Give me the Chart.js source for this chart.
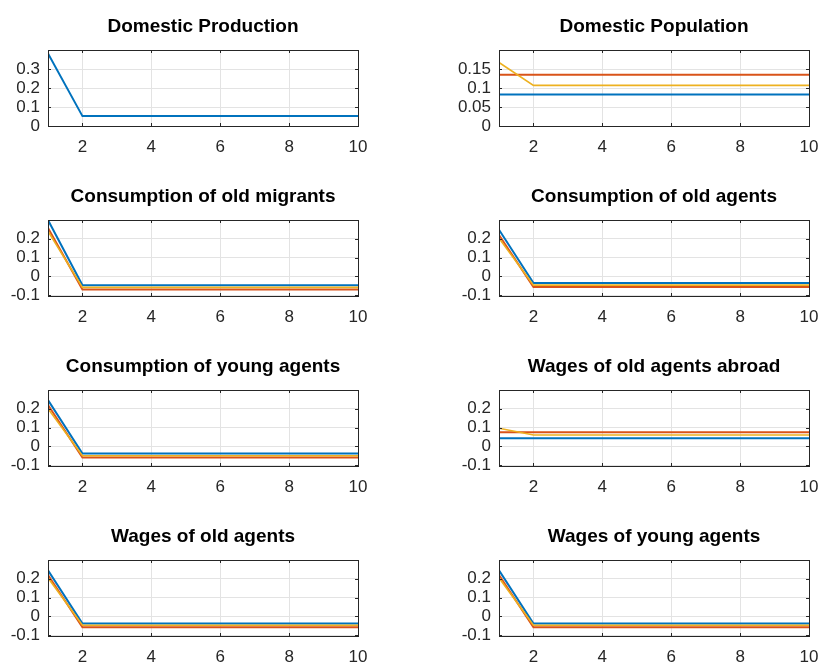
<!DOCTYPE html>
<html>
<head>
<meta charset="utf-8">
<script src="https://cdn.jsdelivr.net/npm/chart.js@4/dist/chart.umd.min.js"></script>
<style>
  html, body { margin: 0; padding: 0; background: #fff; }
  body { width: 819px; height: 662px; overflow: hidden; position: relative; }
  canvas { position: absolute; }
</style>
</head>
<body>
<div id="figure"></div>
<script>
// periodos (eixo x) e ticks
const periods = [1, 2, 3, 4, 5, 6, 7, 8, 9, 10];
const xTicks = [2, 4, 6, 8, 10];

// Domestic Production
const prodBlue = [0.382, 0.052, 0.052, 0.052, 0.052, 0.052, 0.052, 0.052, 0.052, 0.052];

// Domestic Population
const popBlue = [0.083, 0.083, 0.083, 0.083, 0.083, 0.083, 0.083, 0.083, 0.083, 0.083];
const popRed = [0.135, 0.135, 0.135, 0.135, 0.135, 0.135, 0.135, 0.135, 0.135, 0.135];
const popYellow = [0.167, 0.107, 0.107, 0.107, 0.107, 0.107, 0.107, 0.107, 0.107, 0.107];

// Consumption of old migrants
const oldMigBlue = [0.300, -0.048, -0.048, -0.048, -0.048, -0.048, -0.048, -0.048, -0.048, -0.048];
const oldMigRed = [0.257, -0.070, -0.070, -0.070, -0.070, -0.070, -0.070, -0.070, -0.070, -0.070];
const oldMigYellow = [0.240, -0.059, -0.059, -0.059, -0.059, -0.059, -0.059, -0.059, -0.059, -0.059];

// Consumption of old agents
const oldConsBlue = [0.248, -0.036, -0.036, -0.036, -0.036, -0.036, -0.036, -0.036, -0.036, -0.036];
const oldConsRed = [0.220, -0.057, -0.057, -0.057, -0.057, -0.057, -0.057, -0.057, -0.057, -0.057];
const oldConsYellow = [0.203, -0.047, -0.047, -0.047, -0.047, -0.047, -0.047, -0.047, -0.047, -0.047];

// Consumption of young agents
const youngConsBlue = [0.246, -0.039, -0.039, -0.039, -0.039, -0.039, -0.039, -0.039, -0.039, -0.039];
const youngConsRed = [0.220, -0.060, -0.060, -0.060, -0.060, -0.060, -0.060, -0.060, -0.060, -0.060];
const youngConsYellow = [0.200, -0.050, -0.050, -0.050, -0.050, -0.050, -0.050, -0.050, -0.050, -0.050];

// Wages of old agents abroad
const abroadBlue = [0.043, 0.043, 0.043, 0.043, 0.043, 0.043, 0.043, 0.043, 0.043, 0.043];
const abroadRed = [0.075, 0.075, 0.075, 0.075, 0.075, 0.075, 0.075, 0.075, 0.075, 0.075];
const abroadYellow = [0.096, 0.060, 0.060, 0.060, 0.060, 0.060, 0.060, 0.060, 0.060, 0.060];

// Wages of old agents
const oldWageBlue = [0.245, -0.038, -0.038, -0.038, -0.038, -0.038, -0.038, -0.038, -0.038, -0.038];
const oldWageRed = [0.220, -0.058, -0.058, -0.058, -0.058, -0.058, -0.058, -0.058, -0.058, -0.058];
const oldWageYellow = [0.205, -0.048, -0.048, -0.048, -0.048, -0.048, -0.048, -0.048, -0.048, -0.048];

// Wages of young agents
const youngWageBlue = [0.245, -0.038, -0.038, -0.038, -0.038, -0.038, -0.038, -0.038, -0.038, -0.038];
const youngWageRed = [0.220, -0.058, -0.058, -0.058, -0.058, -0.058, -0.058, -0.058, -0.058, -0.058];
const youngWageYellow = [0.205, -0.048, -0.048, -0.048, -0.048, -0.048, -0.048, -0.048, -0.048, -0.048];

const ticksA = [0, 0.1, 0.2, 0.3];
const ticksB = [0, 0.05, 0.1, 0.15];
const ticksC = [-0.1, 0, 0.1, 0.2];

const paineis = [
  { title: 'Domestic Production', series: [prodBlue], yMin: 0, yMax: 0.4, yTicks: ticksA },
  { title: 'Domestic Population', series: [popBlue, popRed, popYellow], yMin: 0, yMax: 0.2, yTicks: ticksB },
  { title: 'Consumption of old migrants', series: [oldMigBlue, oldMigRed, oldMigYellow], yMin: -0.105, yMax: 0.3, yTicks: ticksC },
  { title: 'Consumption of old agents', series: [oldConsBlue, oldConsRed, oldConsYellow], yMin: -0.105, yMax: 0.3, yTicks: ticksC },
  { title: 'Consumption of young agents', series: [youngConsBlue, youngConsRed, youngConsYellow], yMin: -0.105, yMax: 0.3, yTicks: ticksC },
  { title: 'Wages of old agents abroad', series: [abroadBlue, abroadRed, abroadYellow], yMin: -0.105, yMax: 0.3, yTicks: ticksC },
  { title: 'Wages of old agents', series: [oldWageBlue, oldWageRed, oldWageYellow], yMin: -0.105, yMax: 0.3, yTicks: ticksC },
  { title: 'Wages of young agents', series: [youngWageBlue, youngWageRed, youngWageYellow], yMin: -0.105, yMax: 0.3, yTicks: ticksC }
];

const cores = ['#0072BD', '#D95319', '#EDB120'];
const larguras = [2, 2, 1.6];
const AXIS = '#262626';
const FONT = "'Liberation Sans', Arial, Helvetica, sans-serif";

// caixa e ticks para dentro, estilo MATLAB
const caixaPlugin = {
  id: 'caixa',
  afterDraw(chart) {
    const { ctx, chartArea: a, scales } = chart;
    ctx.save();
    ctx.strokeStyle = AXIS;
    ctx.lineWidth = 1;
    ctx.beginPath();
    scales.x.ticks.forEach(t => {
      const px = Math.round(scales.x.getPixelForValue(t.value)) + 0.5;
      ctx.moveTo(px, a.bottom); ctx.lineTo(px, a.bottom - 3);
      ctx.moveTo(px, a.top); ctx.lineTo(px, a.top + 3);
    });
    scales.y.ticks.forEach(t => {
      const py = Math.round(scales.y.getPixelForValue(t.value)) + 0.5;
      ctx.moveTo(a.left, py); ctx.lineTo(a.left + 3, py);
      ctx.moveTo(a.right, py); ctx.lineTo(a.right - 3, py);
    });
    ctx.stroke();
    ctx.strokeRect(Math.round(a.left) + 0.5, Math.round(a.top) + 0.5,
      Math.round(a.right - a.left), Math.round(a.bottom - a.top));
    ctx.restore();
  }
};

const fig = document.getElementById('figure');

paineis.forEach((p, i) => {
  const col = i % 2;
  const row = Math.floor(i / 2);
  const plotLeft = col === 0 ? 48 : 499;
  const plotTop = 50 + 170 * row;

  const cv = document.createElement('canvas');
  cv.width = 391;
  cv.height = 162;
  cv.style.left = (plotLeft - 60) + 'px';
  cv.style.top = (plotTop - 50) + 'px';
  fig.appendChild(cv);

  const datasets = p.series.map((s, k) => ({
    data: periods.map((x, j) => ({ x: x, y: s[j] })),
    borderColor: cores[k],
    borderWidth: larguras[k],
    pointRadius: 0,
    tension: 0,
    order: 3 - k
  }));

  new Chart(cv.getContext('2d'), {
    type: 'line',
    data: { datasets: datasets },
    options: {
      responsive: false,
      animation: false,
      layout: { padding: { top: 0, right: 20, bottom: 0, left: 0 } },
      plugins: {
        legend: { display: false },
        tooltip: { enabled: false },
        title: {
          display: true,
          text: p.title,
          fullSize: false,
          color: '#000',
          font: { family: FONT, size: 19, weight: 'bold', lineHeight: 1.2 },
          padding: { top: 15.5, bottom: 11.7 }
        }
      },
      scales: {
        x: {
          type: 'linear',
          min: 1,
          max: 10,
          afterBuildTicks: s => { s.ticks = xTicks.map(v => ({ value: v })); },
          afterFit: s => { s.height = 36; },
          grid: { color: '#e3e3e3', drawTicks: false },
          border: { display: false },
          ticks: { color: AXIS, padding: 11.5, maxRotation: 0, font: { family: FONT, size: 17 } }
        },
        y: {
          min: p.yMin,
          max: p.yMax,
          afterBuildTicks: s => { s.ticks = p.yTicks.map(v => ({ value: v })); },
          afterFit: s => { s.width = 60; },
          grid: { color: '#e3e3e3', drawTicks: false },
          border: { display: false },
          ticks: {
            color: AXIS, padding: 8, font: { family: FONT, size: 17 },
            callback: v => String(v)
          }
        }
      }
    },
    plugins: [caixaPlugin]
  });
});
</script>
</body>
</html>
